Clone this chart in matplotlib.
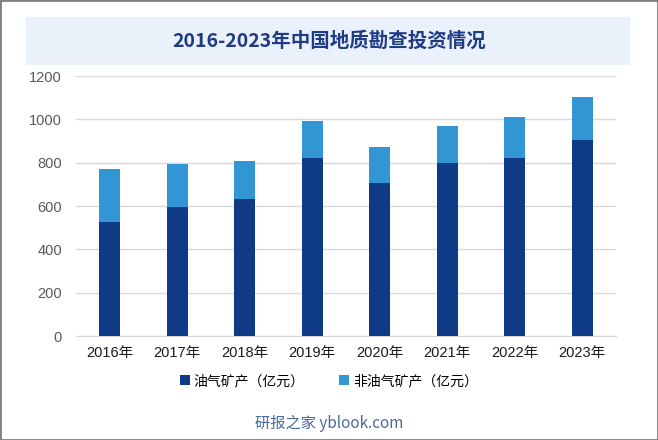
import matplotlib.pyplot as plt
from matplotlib.patches import Rectangle

plt.rcParams['font.family'] = ['Noto Sans CJK SC', 'DejaVu Sans']
tick_fonts = ['Liberation Sans', 'Noto Sans CJK SC']

years = ['2016年', '2017年', '2018年', '2019年', '2020年', '2021年', '2022年', '2023年']
oil = [527, 597, 634, 823, 707, 800, 823, 906]
total = [772, 795, 809, 994, 874, 971, 1012, 1104]
non_oil = [t - o for t, o in zip(total, oil)]

fig = plt.figure(figsize=(6.58, 4.40), dpi=100)
ax = fig.add_axes([76 / 658, 1 - 336 / 440, 540 / 658, 260 / 440])

x = range(len(years))
ax.bar(x, oil, width=0.31, color='#0F3A85', label='油气矿产（亿元）', zorder=3)
ax.bar(x, non_oil, bottom=oil, width=0.31, color='#3196D3', label='非油气矿产（亿元）', zorder=3)

ax.set_xlim(-0.5, len(years) - 0.5)
ax.set_ylim(0, 1200)
ax.set_yticks(range(0, 1201, 200))
ax.set_yticklabels([str(v) for v in range(0, 1201, 200)], family=tick_fonts, fontsize=10.5,
                   color='#595959')
ax.set_xticks(list(x))
ax.set_xticklabels(years, family=tick_fonts, fontsize=10.5, color='#1a1a1a')
ax.tick_params(axis='y', length=0, pad=10)
ax.tick_params(axis='x', length=0, pad=7)
ax.grid(axis='y', color='#d9d9d9', linewidth=1, zorder=0)
for s in ['top', 'right', 'left']:
    ax.spines[s].set_visible(False)
ax.spines['bottom'].set_color('#d9d9d9')

# title band
fig.patches.append(Rectangle((26 / 658, 1 - 65 / 440), 604 / 658, 48 / 440,
                             transform=fig.transFigure, facecolor='#EAF1FB', edgecolor='none'))
fig.text(0.5, 1 - 41 / 440, '2016-2023年中国地质勘查投资情况', ha='center', va='center',
         fontsize=14, fontweight='bold', color='#1F3B84')

# outer border
fig.patches.append(Rectangle((0, 0), 1, 1, transform=fig.transFigure,
                             facecolor='none', edgecolor='#808080', linewidth=2))

ax.legend(loc='center', bbox_to_anchor=(0.5, 1 - 381 / 440), bbox_transform=fig.transFigure,
          ncol=2, frameon=False, fontsize=10, handlelength=0.7, handleheight=0.7,
          columnspacing=2.5, handletextpad=0.3)

fig.text(0.5, 1 - 423 / 440, '研报之家 yblook.com', ha='center', va='center',
         fontsize=11, color='#4A6A9A')

fig.savefig('out.png', dpi=100)
